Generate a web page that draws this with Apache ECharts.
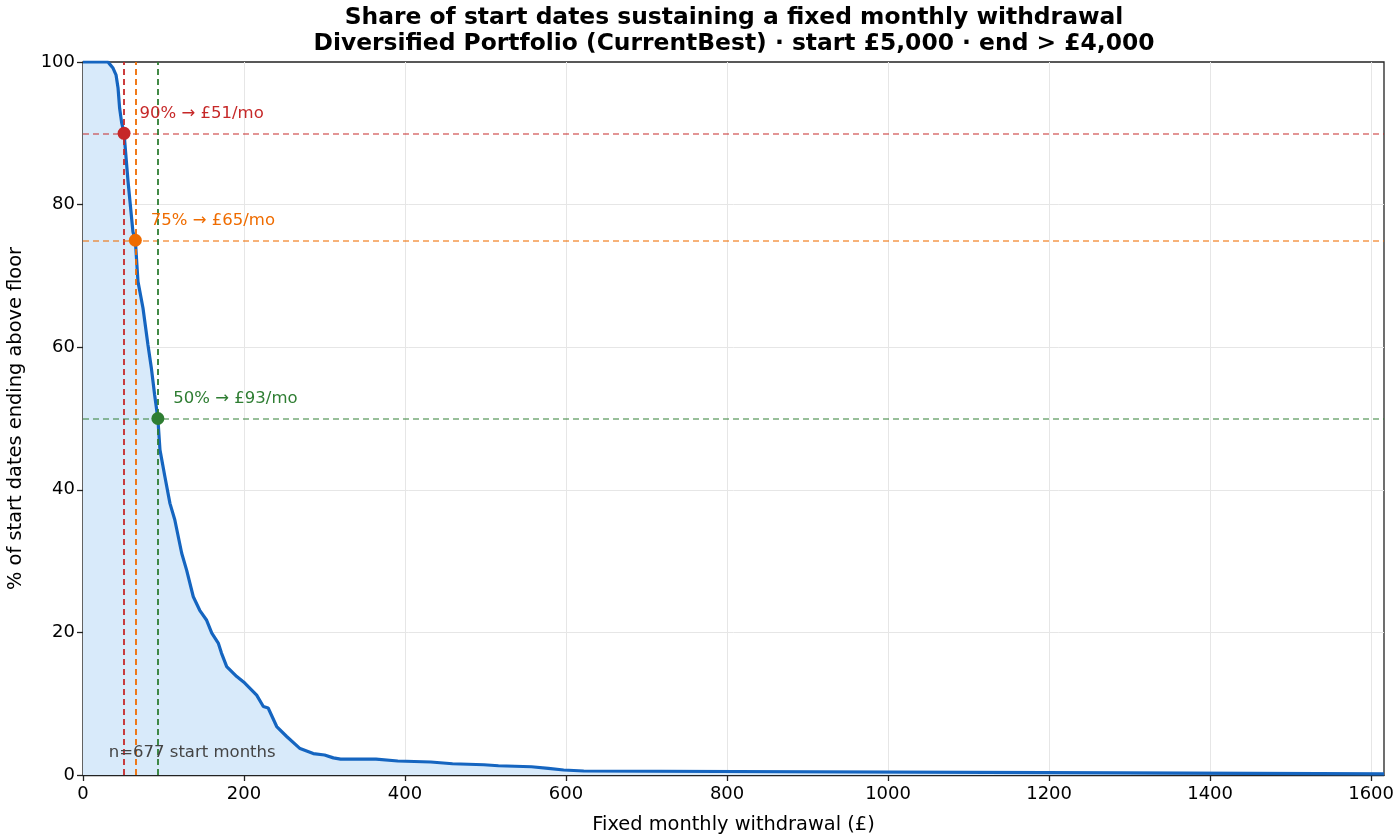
<!DOCTYPE html>
<html>
<head>
<meta charset="utf-8">
<title>Withdrawal survival</title>
<script src="https://cdn.jsdelivr.net/npm/echarts@6/dist/echarts.min.js"></script>
<style>
  html, body { margin: 0; padding: 0; background: #fff; }
  #chart { width: 1400px; height: 840px; }
</style>
</head>
<body>
<div id="chart"></div>
<script>
// withdrawal (£/mo) and share of start months (%) ending above the floor
const withdrawal = [0, 31, 34, 37, 41, 43.5, 45.5, 48, 51, 56, 62, 65, 68.3, 74.5, 80.7, 85, 89, 93,
  95.6, 101.8, 108, 114, 122.6, 128.8, 137, 145, 153.6, 160, 168, 172, 178.5, 191, 201, 215.7,
  224, 230, 240.6, 253, 269.6, 286, 300, 311, 320, 364, 366, 391, 393, 432, 434, 459, 461, 498,
  500, 516, 518, 557, 559, 578, 580, 597, 599, 622, 624, 1289, 1291, 1616]
const share = [100, 100, 99.6, 99.2, 98.2, 96.4, 93.5, 91.5, 90, 83.2, 76.2, 75, 69.2, 65.5, 60.3, 57, 53.3, 50,
  45.6, 41.8, 38.1, 35.8, 31.1, 28.7, 25, 23.1, 21.7, 19.9, 18.5, 17.1, 15.2, 13.8, 12.9, 11.2,
  9.6, 9.4, 6.8, 5.4, 3.7, 3.0, 2.8, 2.4, 2.22, 2.22, 1.96, 1.96, 1.82, 1.82, 1.58, 1.58, 1.44, 1.44,
  1.3, 1.3, 1.16, 1.16, 0.94, 0.94, 0.7, 0.7, 0.56, 0.56, 0.3, 0.3, 0.15, 0.15]

// thresholds marked on the chart
const levels = [90, 75, 50]
const levelWithdrawal = [51, 65, 93]
const levelColors = ['#c62828', '#ef6c00', '#2e7d32']
const levelLineColors = ['rgba(198,40,40,0.65)', 'rgba(239,108,0,0.7)', 'rgba(46,125,50,0.65)']

const nStart = 677

const chart = echarts.init(document.getElementById('chart'))
const font = 'DejaVu Sans'

const curve = withdrawal.map((w, i) => [w, share[i]])

const markLines = []
levels.forEach((lv, i) => {
  markLines.push({
    yAxis: lv,
    lineStyle: { color: levelLineColors[i], type: [6, 4], width: 1.5 }
  })
  markLines.push({
    xAxis: levelWithdrawal[i],
    lineStyle: { color: levelColors[i], type: [6, 4], width: 2, opacity: 0.9 }
  })
})

let option = {
  animation: false,
  textStyle: { fontFamily: font },
  title: {
    text: 'Share of start dates sustaining a fixed monthly withdrawal\nDiversified Portfolio (CurrentBest) · start £5,000 · end > £4,000',
    left: 729,
    top: 0,
    textAlign: 'center',
    textStyle: { fontFamily: font, fontSize: 23.4, fontWeight: 'bold', color: '#000', lineHeight: 26 }
  },
  grid: {
    left: 83,
    right: 16,
    top: 62,
    bottom: 65,
    outerBoundsMode: 'none',
    containLabel: false,
    show: true,
    borderColor: '#222',
    borderWidth: 1.3
  },
  xAxis: {
    type: 'value',
    min: 0,
    max: 1616,
    interval: 200,
    name: 'Fixed monthly withdrawal (£)',
    nameLocation: 'middle',
    nameGap: 40,
    nameTextStyle: { fontSize: 19.4, color: '#000', fontFamily: font },
    axisLine: { show: true, onZero: false, lineStyle: { color: '#222', width: 1.3 } },
    axisTick: { show: true, length: 6, lineStyle: { color: '#222', width: 1.3 } },
    axisLabel: { fontSize: 18, color: '#000', margin: 10, showMaxLabel: false, formatter: v => String(v) },
    splitLine: { show: true, showMinLine: false, showMaxLine: false, lineStyle: { color: '#e6e6e6', width: 1 } }
  },
  yAxis: {
    type: 'value',
    min: 0,
    max: 100,
    interval: 20,
    name: '% of start dates ending above floor',
    nameLocation: 'middle',
    nameGap: 58,
    nameTextStyle: { fontSize: 19.4, color: '#000', fontFamily: font },
    axisLine: { show: true, lineStyle: { color: '#222', width: 1.3 } },
    axisTick: { show: true, length: 6, lineStyle: { color: '#222', width: 1.3 } },
    axisLabel: { fontSize: 18, color: '#000', margin: 8 },
    splitLine: { show: true, showMinLine: false, showMaxLine: false, lineStyle: { color: '#e6e6e6', width: 1 } }
  },
  series: [
    {
      name: 'share',
      type: 'line',
      data: curve,
      showSymbol: false,
      symbol: 'none',
      lineStyle: { color: '#1565c0', width: 3.2 },
      areaStyle: { color: '#d8eafa', opacity: 1 },
      z: 3,
      markLine: {
        silent: true,
        symbol: 'none',
        label: { show: false },
        data: markLines,
        z: 4
      },
      markPoint: {
        silent: true,
        symbol: 'circle',
        symbolSize: 0,
        data: [{
          coord: [32, 3.1],
          label: {
            show: true,
            formatter: 'n=' + nStart + ' start months',
            position: 'right',
            distance: 0,
            fontSize: 16.5,
            color: '#444',
            fontFamily: font
          }
        }]
      }
    },
    {
      name: 'levels',
      type: 'scatter',
      z: 6,
      symbolSize: 13,
      data: levels.map((lv, i) => ({
        value: [levelWithdrawal[i], lv],
        itemStyle: { color: levelColors[i], opacity: 1 },
        label: {
          show: true,
          formatter: lv + '% → £' + levelWithdrawal[i] + '/mo',
          position: [22, -22],
          fontSize: 16.5,
          color: levelColors[i],
          fontFamily: font
        }
      }))
    }
  ]
}

chart.setOption(option)
</script>
</body>
</html>
